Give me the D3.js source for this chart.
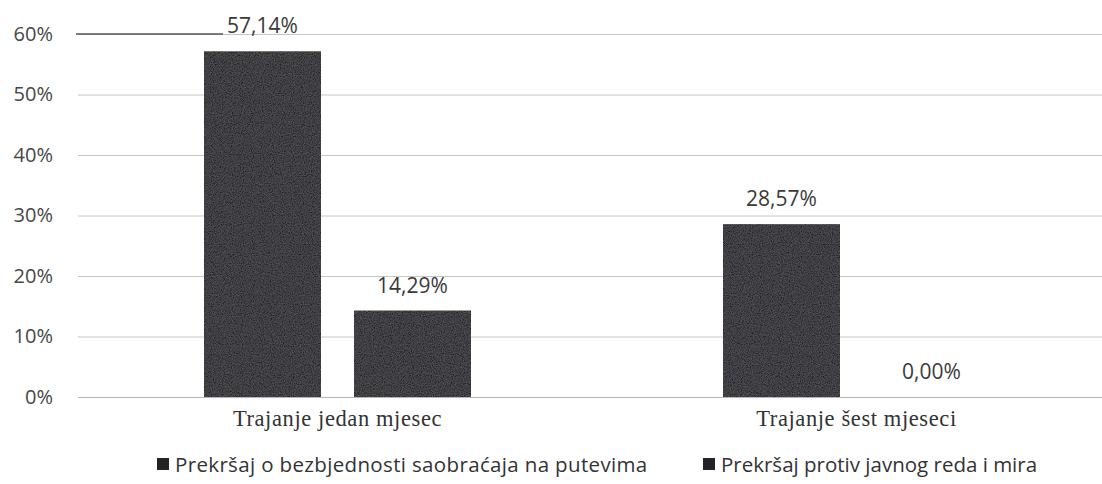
<!DOCTYPE html>
<html>
<head>
<meta charset="utf-8">
<script src="https://cdn.jsdelivr.net/npm/d3@7"></script>
<style>
  body { margin: 0; background: #fff; }
  svg { display: block; }
</style>
</head>
<body>
<svg class="chart" width="1102" height="484"></svg>
<script>
// data
const categories = ["Trajanje jedan mjesec", "Trajanje šest mjeseci"];
const seriesNames = ["Prekršaj o bezbjednosti saobraćaja na putevima", "Prekršaj protiv javnog reda i mira"];
const seriesValues = [
    [57.14, 28.57],
    [14.29, 0.00]
];
const yTicks = [0, 10, 20, 30, 40, 50, 60];

// config
const width = 1102, height = 484;
const plotLeft = 78, plotRight = 1116;
const plotTop = 34, plotBottom = 397;
const barColor = "#222226";
const labelFont = "'Open Sans', 'Noto Sans', sans-serif";

const svg = d3.select("svg.chart");

// noise texture for bars (scan look)
const defs = svg.append("defs");
const filter = defs.append("filter").attr("id", "grain")
    .attr("x", 0).attr("y", 0).attr("width", 1).attr("height", 1);
filter.append("feTurbulence")
    .attr("type", "fractalNoise")
    .attr("baseFrequency", 0.9)
    .attr("numOctaves", 2)
    .attr("seed", 3)
    .attr("result", "noise");
filter.append("feColorMatrix")
    .attr("in", "noise")
    .attr("type", "matrix")
    .attr("values", "0 0 0 0 0.42  0 0 0 0 0.42  0 0 0 0 0.45  0 0 0 0.3 -0.06")
    .attr("result", "grey");
filter.append("feComposite")
    .attr("in", "grey").attr("in2", "SourceGraphic")
    .attr("operator", "in").attr("result", "speck");
const merge = filter.append("feMerge");
merge.append("feMergeNode").attr("in", "SourceGraphic");
merge.append("feMergeNode").attr("in", "speck");

const y = d3.scaleLinear().domain([0, 60]).range([plotBottom, plotTop]);

const x0 = d3.scaleBand()
    .domain(categories)
    .range([plotLeft, plotRight])
    .paddingInner(0)
    .paddingOuter(0);

const x1 = d3.scaleBand()
    .domain(d3.range(seriesNames.length))
    .range([0, x0.bandwidth()])
    .paddingInner(0.22)
    .paddingOuter(0.84);

// gridlines + y labels
const yAxis = d3.axisLeft(y)
    .tickValues(yTicks)
    .tickSize(-(plotRight - plotLeft))
    .tickPadding(25)
    .tickFormat(d => d + "%");

const gY = svg.append("g")
    .attr("transform", `translate(${plotLeft},0)`)
    .call(yAxis);
gY.select(".domain").remove();
gY.selectAll(".tick line")
    .attr("stroke", d => d === 0 ? "#b5b5b5" : "#c6c6c6")
    .attr("stroke-width", 1);
gY.selectAll(".tick text")
    .attr("fill", "#474747")
    .style("font-family", labelFont)
    .style("font-size", "20px");

// the scanned top gridline is darker on the left
gY.append("line")
    .attr("x1", -2).attr("x2", 145)
    .attr("y1", y(60)).attr("y2", y(60))
    .attr("stroke", "#555").attr("stroke-width", 1.3);

// bars
const groups = svg.append("g").selectAll("g.category")
    .data(categories)
    .join("g")
    .attr("class", "category")
    .attr("transform", c => `translate(${x0(c)},0)`);

groups.selectAll("rect.bar")
    .data((c, ci) => seriesValues.map((vals, si) => ({ si, v: vals[ci] })))
    .join("rect")
    .attr("class", "bar")
    .attr("x", d => x1(d.si))
    .attr("y", d => y(d.v))
    .attr("width", x1.bandwidth())
    .attr("height", d => y(0) - y(d.v))
    .attr("fill", barColor)
    .attr("filter", "url(#grain)");

// value labels
groups.selectAll("text.value")
    .data((c, ci) => seriesValues.map((vals, si) => ({ si, v: vals[ci] })))
    .join("text")
    .attr("class", "value")
    .attr("x", d => x1(d.si) + x1.bandwidth() / 2)
    .attr("y", d => y(d.v) - 18)
    .attr("text-anchor", "middle")
    .attr("fill", "#3a3a3a")
    .style("font-family", labelFont)
    .style("font-size", "21px")
    .text(d => d.v.toFixed(2).replace(".", ",") + "%");

// category labels
svg.append("g").selectAll("text.cat")
    .data(categories)
    .join("text")
    .attr("class", "cat")
    .attr("x", c => x0(c) + x0.bandwidth() / 2)
    .attr("y", plotBottom + 29)
    .attr("text-anchor", "middle")
    .attr("fill", "#333")
    .style("font-family", "'Liberation Serif', 'DejaVu Serif', serif")
    .style("font-size", "22.5px")
    .style("letter-spacing", "0.6px")
    .text(c => c);

// legend
const legendX = [157, 703];
const legend = svg.append("g").selectAll("g.legend")
    .data(seriesNames)
    .join("g")
    .attr("class", "legend")
    .attr("transform", (s, i) => `translate(${legendX[i]},472)`);

legend.append("rect")
    .attr("x", 0).attr("y", -14)
    .attr("width", 12).attr("height", 12)
    .attr("fill", barColor);

legend.append("text")
    .attr("x", 18)
    .attr("y", 0)
    .attr("fill", "#333")
    .style("font-family", labelFont)
    .style("font-size", "20.5px")
    .style("letter-spacing", (s, i) => i === 0 ? "0.35px" : "0px")
    .text(s => s);
</script>
</body>
</html>
